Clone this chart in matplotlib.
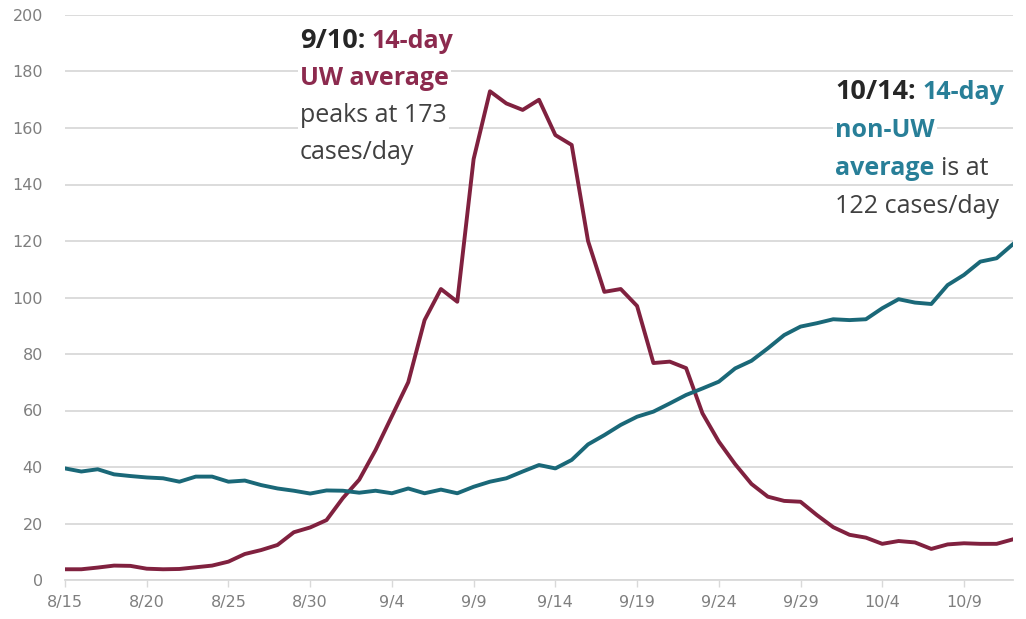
import matplotlib
matplotlib.use("Agg")
import matplotlib.pyplot as plt

# 14-day average cases/day, one value per day from 8/15
uw = [3.8, 3.8, 4.4, 5.1, 5.0, 4.0, 3.8, 3.9, 4.5, 5.1,
      6.5, 9.2, 10.6, 12.4, 16.9, 18.6, 21.2, 29.0, 35.5, 46.0,
      58.0, 70.0, 92.0, 103.0, 98.5, 149.0, 173.0, 168.7, 166.4, 170.0,
      157.5, 154.0, 120.0, 102.0, 103.0, 97.0, 76.8, 77.3, 75.0, 59.0,
      49.0, 41.0, 34.0, 29.5, 28.0, 27.7, 23.0, 18.7, 16.0, 15.0,
      12.8, 13.8, 13.3, 11.0, 12.6, 13.0, 12.8, 12.8, 14.4]
non_uw = [39.5, 38.4, 39.2, 37.4, 36.8, 36.3, 36.0, 34.8, 36.6, 36.6,
          34.8, 35.2, 33.6, 32.4, 31.6, 30.6, 31.7, 31.6, 30.9, 31.6,
          30.7, 32.4, 30.7, 32.0, 30.7, 33.0, 34.8, 36.0, 38.4, 40.7,
          39.5, 42.5, 48.0, 51.3, 54.9, 57.8, 59.6, 62.5, 65.5, 67.8,
          70.2, 74.9, 77.6, 82.0, 86.7, 89.7, 90.9, 92.3, 92.0, 92.3,
          96.2, 99.4, 98.2, 97.7, 104.4, 108.0, 112.7, 113.9, 118.9]
days = list(range(len(uw)))
tick_days = [0, 5, 10, 15, 20, 25, 30, 35, 40, 45, 50, 55]
tick_labels = ["8/15", "8/20", "8/25", "8/30", "9/4", "9/9", "9/14",
               "9/19", "9/24", "9/29", "10/4", "10/9"]

maroon = "#80213f"
teal = "#1a6878"
maroon_txt = "#8c2a4e"
teal_txt = "#287f98"
dark = "#262626"
body = "#404040"

W, H = 1026, 619
fig = plt.figure(figsize=(W / 100, H / 100), dpi=100)
ax = fig.add_axes([65 / W, 39 / H, 948 / W, 565 / H])

ax.plot(days, uw, color=maroon, lw=2.8, solid_joinstyle="round", zorder=3)
ax.plot(days, non_uw, color=teal, lw=2.8, solid_joinstyle="round", zorder=3)

ax.set_xlim(0, 58)
ax.set_ylim(0, 200)
ax.set_yticks(range(0, 201, 20))
ax.set_xticks(tick_days)
ax.set_xticklabels(tick_labels)
ax.grid(axis="y", color="#d9d9d9", lw=1.3)
ax.set_axisbelow(True)
for s in ["top", "right", "left"]:
    ax.spines[s].set_visible(False)
ax.spines["bottom"].set_color("#d9d9d9")
ax.spines["bottom"].set_linewidth(1.3)
ax.tick_params(axis="y", length=0, pad=16, labelsize=11.5, labelcolor="#7f7f7f")
ax.tick_params(axis="x", length=5, width=1, color="#d9d9d9", pad=6,
               labelsize=11.5, labelcolor="#7f7f7f")
for lab in ax.get_xticklabels() + ax.get_yticklabels():
    lab.set_family("DejaVu Sans")

renderer = fig.canvas.get_renderer()


def rich_line(x, y, parts):
    # parts: (text, colour, weight, size); pieces placed one after another
    for i, (s, c, w, size) in enumerate(parts):
        if i > 0:
            x += 0.26 * size * 100 / 72
        t = fig.text(x / W, 1 - y / H, s, color=c, fontweight=w, fontsize=size,
                     family="Open Sans", ha="left", va="baseline", zorder=5,
                     bbox=dict(facecolor="white", edgecolor="none", pad=1.5))
        x += t.get_window_extent(renderer).width


rich_line(300, 48, [("9/10:", dark, "bold", 19.5), ("14-day", maroon_txt, "bold", 18)])
rich_line(300, 85, [("UW average", maroon_txt, "bold", 18)])
rich_line(300, 122, [("peaks at 173", body, "normal", 18)])
rich_line(300, 159, [("cases/day", body, "normal", 18)])

rich_line(835, 99, [("10/14:", dark, "bold", 19.5), ("14-day", teal_txt, "bold", 18)])
rich_line(835, 137, [("non-UW", teal_txt, "bold", 18)])
rich_line(835, 175, [("average", teal_txt, "bold", 18), ("is at", body, "normal", 18)])
rich_line(835, 213, [("122 cases/day", body, "normal", 18)])

fig.savefig("out.png", dpi=100, facecolor="white")
